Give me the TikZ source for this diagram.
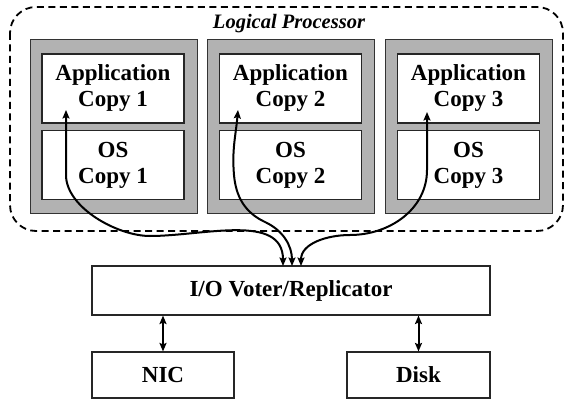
\documentclass[tikz,border=0pt]{standalone}
\usepackage{fontspec}
\setmainfont{Liberation Serif}
\usetikzlibrary{arrows.meta}
\tikzset{
  lbl/.style={font=\fontsize{23}{26}\selectfont\bfseries, align=center},
  graybox/.style={draw=black!80, line width=1pt, fill=gray!60, minimum width=167pt, minimum height=173pt, inner sep=0pt},
  whitebox/.style={lbl, draw=black!85, line width=1.1pt, fill=white, minimum width=142pt, minimum height=69pt, inner sep=0pt},
  plainbox/.style={lbl, draw=black!85, line width=1.1pt, fill=white, inner sep=0pt},
  flow/.style={line width=2pt, {Stealth[length=8.5pt,width=7pt,inset=1.5pt]}-{Stealth[length=8.5pt,width=7pt,inset=1.5pt]}},
}
\begin{document}
\begin{tikzpicture}[x=1pt,y=-1pt]
\useasboundingbox (0,0) rectangle (565,401);
% logical processor boundary
\draw[line width=1.8pt, dash pattern=on 7pt off 4.5pt, rounded corners=26pt] (10,7) rectangle (563,231);
\node[font=\fontsize{20.5}{22}\selectfont\bfseries\itshape] (lp) at (289,24) {Logical Processor};
% gray boxes
\node[graybox] (g1) at (113.5,126.5) {};
\node[graybox] (g2) at (290.5,126.5) {};
\node[graybox] (g3) at (468.5,126.5) {};
% inner boxes
\node[whitebox] (app1) at (113,88.5) {Application\\Copy 1};
\node[whitebox] (os1) at (113,165) {OS\\Copy 1};
\node[whitebox] (app2) at (290.5,88.5) {Application\\Copy 2};
\node[whitebox] (os2) at (290.5,165) {OS\\Copy 2};
\node[whitebox] (app3) at (468.5,88.5) {Application\\Copy 3};
\node[whitebox] (os3) at (468.5,165) {OS\\Copy 3};
% lower boxes
\node[plainbox, minimum width=398pt, minimum height=49pt] (io) at (291,290.5) {I/O Voter/Replicator};
\node[plainbox, minimum width=142pt, minimum height=46pt] (nic) at (163,375) {NIC};
\node[plainbox, minimum width=143pt, minimum height=46pt] (disk) at (418.5,375) {Disk};
% connector end points
\coordinate (t1) at (66,110);
\coordinate (t2) at (238,110);
\coordinate (t3) at (427,112);
\coordinate (b1) at (283,266);
\coordinate (b2) at (292,266);
\coordinate (b3) at (301,266);
% curved flows
\draw[flow] (t1) -- (66,175) to[out=-90,in=180,looseness=0.8] (150,236) to[out=0,in=90] (b1);
\draw[flow] (t2) to[out=-95,in=95] (234,175) to[out=-85,in=155] (265,222) to[out=-25,in=90] (b2);
\draw[flow] (t3) -- (427,170) to[out=-90,in=0] (350,235) to[out=180,in=90] (b3);
% straight flows
\draw[flow] (io.south -| nic) -- (nic.north);
\draw[flow] (io.south -| disk) -- (disk.north);
\end{tikzpicture}
\end{document}
